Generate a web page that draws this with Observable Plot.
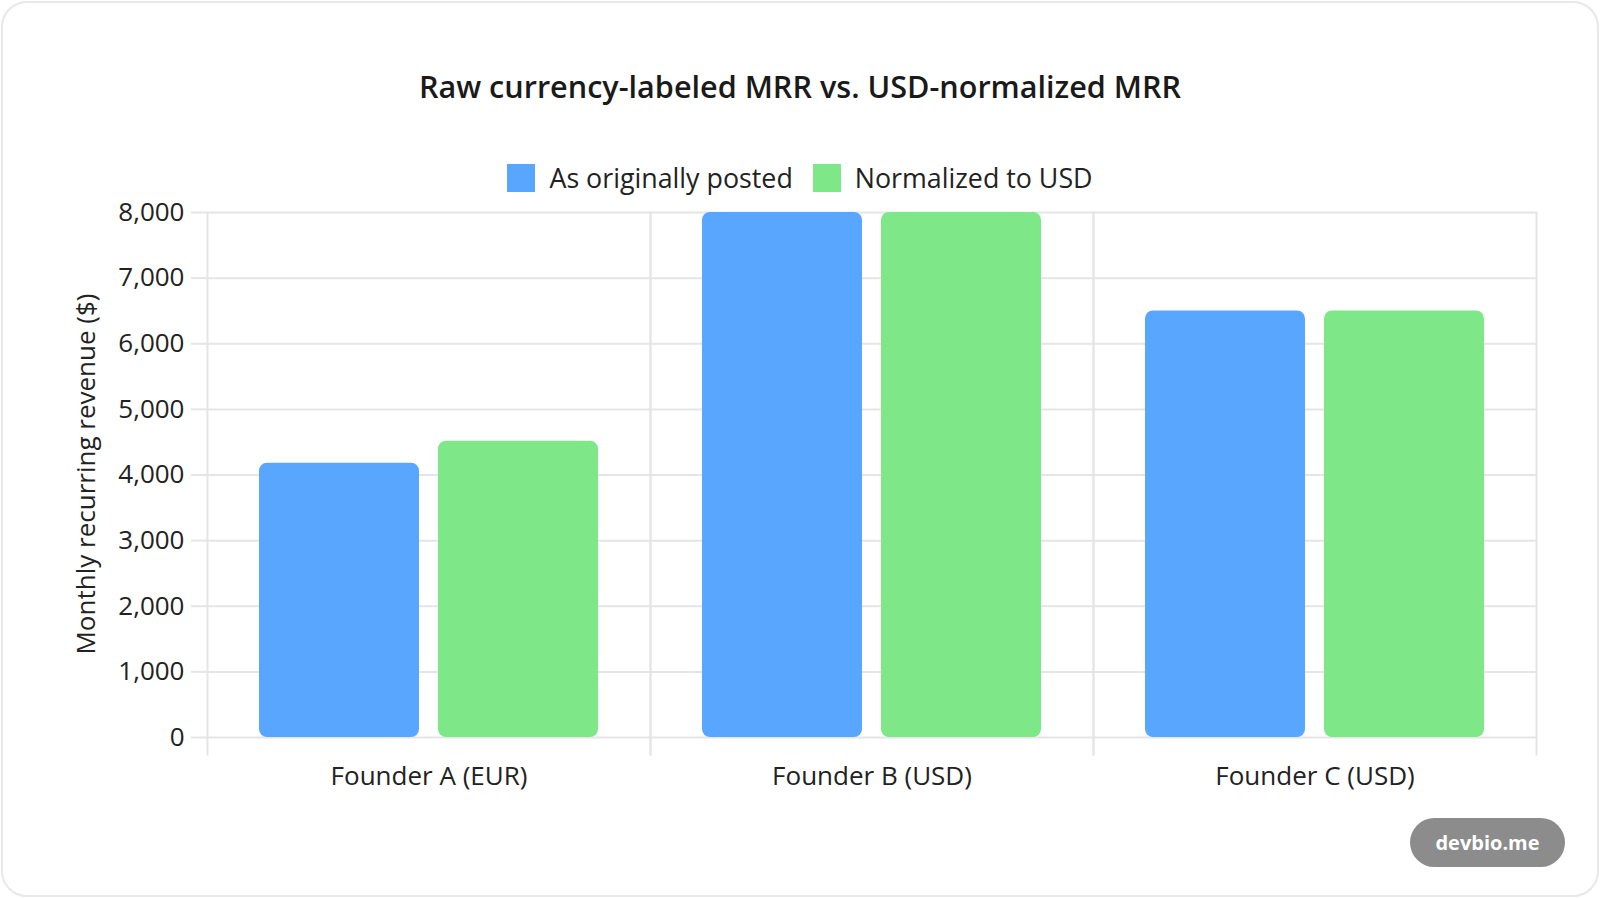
<!DOCTYPE html>
<html>
<head>
<meta charset="utf-8">
<script src="https://cdn.jsdelivr.net/npm/d3@7"></script>
<script src="https://cdn.jsdelivr.net/npm/@observablehq/plot@0.6"></script>
<style>
  html, body { margin: 0; padding: 0; background: #ffffff; }
  body { width: 1600px; height: 898px; position: relative; overflow: hidden; font-family: "Open Sans", "Noto Sans", sans-serif; }
  #card { position: absolute; left: 1px; top: 1px; width: 1594px; height: 892px; border: 2px solid #e8e8e8; border-radius: 26px; background: #fff; }
  #title { position: absolute; left: 0; width: 1600px; top: 65px; text-align: center; font-size: 30.6px; font-weight: 600; color: #1a1a1a; white-space: nowrap; }
  #legend { position: absolute; left: 0; width: 1600px; top: 160px; height: 36px; display: flex; justify-content: center; align-items: center; font-size: 26.8px; color: #222; white-space: nowrap; }
  #legend .item { display: flex; align-items: center; margin: 0 10px; line-height: 36px; }
  #legend .sw { width: 28px; height: 28px; margin-right: 14px; flex: none; }
  #ylabel { position: absolute; left: 85px; top: 474px; transform: translate(-50%, -50%) rotate(-90deg); font-size: 26px; line-height: 30px; color: #222; white-space: nowrap; }
  #chart { position: absolute; left: 0; top: 200px; }
  #badge { position: absolute; left: 1410px; top: 818px; width: 155px; height: 49px; border-radius: 25px; background: #8c8c8c; color: #fff; font-weight: 700; font-size: 20px; display: flex; align-items: center; justify-content: center; }
</style>
</head>
<body>
<div id="card"></div>
<div id="title"></div>
<div id="legend"></div>
<div id="ylabel"></div>
<div id="chart"></div>
<div id="badge">devbio.me</div>
<script>
const titleText = "Raw currency-labeled MRR vs. USD-normalized MRR";
const yLabel = "Monthly recurring revenue ($)";
const categories = ["Founder A (EUR)", "Founder B (USD)", "Founder C (USD)"];
const series = ["As originally posted", "Normalized to USD"];
const asPosted = [4180, 8000, 6500];
const normalized = [4514, 8000, 6500];
const seriesColors = ["#58a6ff", "#7ee787"];
const yTicks = [0, 1000, 2000, 3000, 4000, 5000, 6000, 7000, 8000];

document.getElementById("title").textContent = titleText;
document.getElementById("ylabel").textContent = yLabel;
const legend = document.getElementById("legend");
series.forEach((s, i) => {
  const item = document.createElement("div");
  item.className = "item";
  const sw = document.createElement("div");
  sw.className = "sw";
  sw.style.background = seriesColors[i];
  const t = document.createElement("span");
  t.textContent = s;
  item.appendChild(sw); item.appendChild(t);
  legend.appendChild(item);
});

const rows = [];
categories.forEach((c, i) => {
  rows.push({category: c, series: series[0], value: asPosted[i]});
  rows.push({category: c, series: series[1], value: normalized[i]});
});

const grid = "#e5e5e5";
const chart = Plot.plot({
  width: 1600,
  height: 610,
  marginTop: 12,
  marginBottom: 73,
  marginLeft: 206,
  marginRight: 63,
  style: {fontFamily: "'Open Sans', 'Noto Sans', sans-serif", fontSize: "26px", color: "#222", background: "transparent", overflow: "visible"},
  fx: {domain: categories, padding: 0, label: null},
  x: {domain: series, paddingInner: 0.107, paddingOuter: 0.29, axis: null},
  y: {domain: [0, 8000], label: null},
  color: {domain: series, range: seriesColors},
  marks: [
    Plot.gridY(yTicks, {stroke: grid, strokeOpacity: 1, strokeWidth: 2}),
    Plot.frame({anchor: "left", stroke: grid, strokeWidth: 2, insetBottom: -17}),
    Plot.frame({anchor: "right", stroke: grid, strokeWidth: 2, insetBottom: -17}),
    Plot.axisY(yTicks, {tickSize: 16, tickPadding: 7, stroke: grid, strokeWidth: 2, tickFormat: d3.format(","), fill: "#222", label: null}),
    Plot.axisFx({anchor: "bottom", tickSize: 0, tickPadding: 29, fill: "#222", label: null}),
    Plot.barY(rows, {fx: "category", x: "series", y: "value", fill: "series", rx: 8})
  ]
});
document.getElementById("chart").appendChild(chart);
</script>
</body>
</html>
